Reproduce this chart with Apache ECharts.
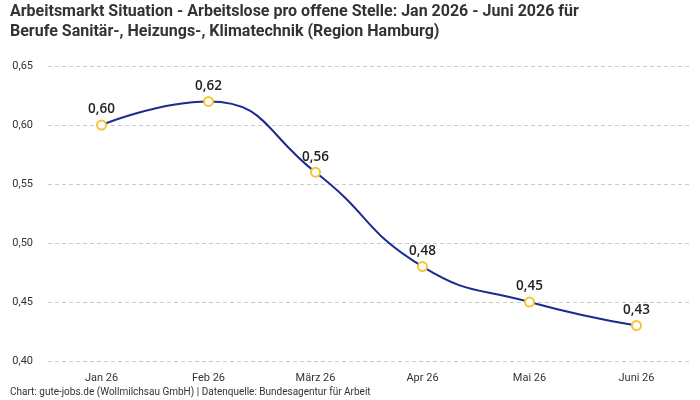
<!DOCTYPE html>
<html>
<head>
<meta charset="utf-8">
<script src="https://cdn.jsdelivr.net/npm/echarts@6/dist/echarts.min.js"></script>
<style>
  html, body { margin: 0; padding: 0; background: #fff; }
  #chart { width: 700px; height: 400px; }
</style>
</head>
<body>
<div id="chart"></div>
<script>
  var months = ['Jan 26', 'Feb 26', 'März 26', 'Apr 26', 'Mai 26', 'Juni 26']
  var values = [0.60, 0.62, 0.56, 0.48, 0.45, 0.43]
  var yTicks = { min: 0.40, max: 0.65, step: 0.05 }

  var fmt = function (v) { return v.toFixed(2).replace('.', ',') }

  var myChart = echarts.init(document.getElementById('chart'))
  myChart.setOption({
    animation: false,
    title: [
      {
        text: 'Arbeitsmarkt Situation - Arbeitslose pro offene Stelle: Jan 2026 - Juni 2026 für\nBerufe Sanitär-, Heizungs-, Klimatechnik (Region Hamburg)',
        left: 10,
        top: 2,
        padding: 0,
        textStyle: {
          fontFamily: 'Roboto',
          fontWeight: 'bold',
          fontSize: 16,
          lineHeight: 20,
          color: '#333'
        }
      },
      {
        text: 'Chart: gute-jobs.de (Wollmilchsau GmbH) | Datenquelle: Bundesagentur für Arbeit',
        left: 10,
        top: 387,
        padding: 0,
        textStyle: {
          fontFamily: 'Roboto',
          fontWeight: 'normal',
          fontSize: 10,
          color: '#333'
        }
      }
    ],
    grid: { left: 48, right: 10, top: 66, bottom: 39 },
    xAxis: {
      type: 'category',
      data: months,
      axisLine: { show: false },
      axisTick: { show: false },
      axisLabel: {
        fontFamily: 'Roboto',
        fontSize: 11,
        color: '#333',
        margin: 12
      }
    },
    yAxis: {
      type: 'value',
      min: yTicks.min,
      max: yTicks.max,
      interval: yTicks.step,
      axisLine: { show: false },
      axisTick: { show: false },
      axisLabel: {
        fontFamily: 'Roboto',
        fontSize: 11,
        color: '#333',
        margin: 15,
        formatter: fmt
      },
      splitLine: {
        lineStyle: { color: '#ccc', type: [4, 3], width: 1 }
      }
    },
    series: [
      {
        type: 'line',
        data: values,
        smooth: 0.5,
        lineStyle: { color: '#1a2b8f', width: 2 },
        itemStyle: { color: '#fff', borderColor: '#f7c430', borderWidth: 2 },
        symbol: 'circle',
        symbolSize: 9,
        label: {
          show: true,
          position: 'top',
          distance: 3,
          fontFamily: 'Open Sans',
          fontSize: 13.5,
          fontWeight: 600,
          color: '#222',
          formatter: function (p) { return fmt(p.value) }
        }
      }
    ]
  })
</script>
</body>
</html>
